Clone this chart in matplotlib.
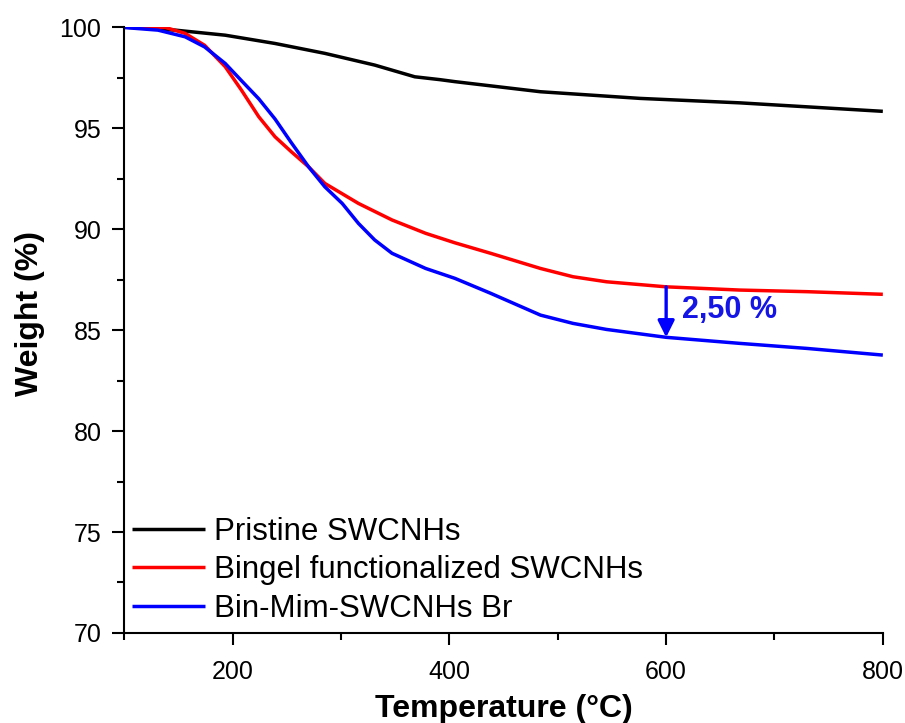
import matplotlib.pyplot as plt
from matplotlib.ticker import MultipleLocator

plt.rcParams['font.family'] = ['Liberation Sans', 'DejaVu Sans']

# TGA curves, temperature (°C) vs remaining weight (%)
t_pristine = [100, 147, 193, 239, 285, 331, 368, 391, 405, 484, 576, 668, 800]
w_pristine = [100.0, 99.85, 99.6, 99.19, 98.7, 98.12, 97.54, 97.4, 97.3, 96.8, 96.47, 96.25, 95.83]

t_bingel = [100, 119, 138, 156, 174, 193, 208, 224, 239, 254, 270, 285, 316, 347,
            378, 405, 438, 484, 514, 545, 600, 668, 730, 800]
w_bingel = [100.0, 100.0, 99.98, 99.69, 99.1, 98.04, 96.88, 95.56, 94.57, 93.83, 93.08, 92.26,
            91.27, 90.45, 89.79, 89.32, 88.8, 88.05, 87.64, 87.39, 87.14, 86.98, 86.9, 86.77]

t_binmim = [100, 131, 156, 174, 193, 208, 224, 239, 254, 270, 285, 301, 316, 331,
            347, 378, 405, 438, 484, 514, 545, 600, 668, 730, 800]
w_binmim = [99.98, 99.85, 99.52, 99.02, 98.2, 97.35, 96.45, 95.45, 94.28, 93.08, 92.09, 91.27,
            90.28, 89.46, 88.8, 88.05, 87.56, 86.82, 85.74, 85.33, 85.03, 84.64, 84.34, 84.09, 83.76]

labels = ['Pristine SWCNHs', 'Bingel functionalized SWCNHs', 'Bin-Mim-SWCNHs Br']
colors = ['black', '#ff0000', '#0000ff']

# weight loss difference marked at 600 °C
t_mark = 600
w_top = 87.14
w_bottom = 84.64

fig = plt.figure(figsize=(9.05, 7.23), dpi=100)
ax = fig.add_axes([0.1375, 0.1245, 0.838, 0.838])

for t, w, lab, c in zip([t_pristine, t_bingel, t_binmim],
                        [w_pristine, w_bingel, w_binmim], labels, colors):
    ax.plot(t, w, color=c, lw=2.5, label=lab, solid_capstyle='butt')

ax.annotate('', xy=(t_mark, w_bottom), xytext=(t_mark, w_top),
            arrowprops=dict(arrowstyle='-|>,head_width=0.25,head_length=0.5',
                            mutation_scale=20, color='#0000ff', lw=2.4,
                            shrinkA=0, shrinkB=0))
ax.text(t_mark + 15, (w_top + w_bottom) / 2 + 0.1, f'{w_top - w_bottom:.2f} %'.replace('.', ','),
        color='#1515e6', fontsize=22, fontweight='bold', ha='left', va='center')

ax.set_xlim(100, 800)
ax.set_ylim(70, 100)
ax.xaxis.set_major_locator(MultipleLocator(200))
ax.xaxis.set_minor_locator(MultipleLocator(100))
ax.yaxis.set_major_locator(MultipleLocator(5))
ax.yaxis.set_minor_locator(MultipleLocator(2.5))

for s in ['top', 'right']:
    ax.spines[s].set_visible(False)
for s in ['left', 'bottom']:
    ax.spines[s].set_linewidth(1.5)

ax.tick_params(which='major', direction='out', length=8.6, width=1.5, labelsize=18)
ax.tick_params(axis='y', which='major', pad=8)
ax.tick_params(axis='x', which='major', pad=11)
ax.tick_params(which='minor', direction='out', length=4.7, width=1.5)

ax.set_xlabel('Temperature (°C)', fontsize=23, fontweight='bold')
ax.set_ylabel('Weight (%)', fontsize=23, fontweight='bold')
ax.xaxis.set_label_coords(0.5, -0.1)
ax.yaxis.set_label_coords(-0.105, 0.528)

ax.legend(loc='lower left', bbox_to_anchor=(-0.003, 0.0), frameon=False, fontsize=22.5,
          handlelength=2.35, handletextpad=0.3, labelspacing=0.27, borderpad=0.2,
          borderaxespad=0.1)

fig.savefig('out.png', dpi=100)
